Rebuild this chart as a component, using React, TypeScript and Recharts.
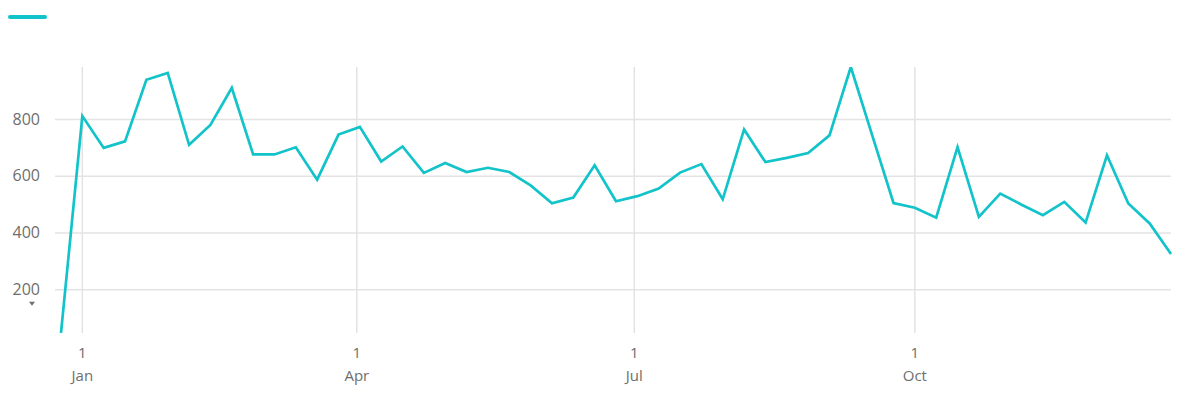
import { LineChart, Line, XAxis, YAxis, ReferenceLine } from "recharts";

const LINE_COLOR = "#12c3c9";
const GRID_COLOR = "#e3e3e3";
const TEXT_COLOR = "#6e6e6e";
const FONT = "'Open Sans', 'Noto Sans', sans-serif";

// weekly buckets (week start dates)
const WEEKS = [
  "2017-12-25",
  "2018-01-01", "2018-01-08", "2018-01-15", "2018-01-22", "2018-01-29",
  "2018-02-05", "2018-02-12", "2018-02-19", "2018-02-26",
  "2018-03-05", "2018-03-12", "2018-03-19", "2018-03-26",
  "2018-04-02", "2018-04-09", "2018-04-16", "2018-04-23", "2018-04-30",
  "2018-05-07", "2018-05-14", "2018-05-21", "2018-05-28",
  "2018-06-04", "2018-06-11", "2018-06-18", "2018-06-25",
  "2018-07-02", "2018-07-09", "2018-07-16", "2018-07-23", "2018-07-30",
  "2018-08-06", "2018-08-13", "2018-08-20", "2018-08-27",
  "2018-09-03", "2018-09-10", "2018-09-17", "2018-09-24",
  "2018-10-01", "2018-10-08", "2018-10-15", "2018-10-22", "2018-10-29",
  "2018-11-05", "2018-11-12", "2018-11-19", "2018-11-26",
  "2018-12-03", "2018-12-10", "2018-12-17", "2018-12-24",
];

const VALUES = [
  48,
  812, 700, 723, 940, 964,
  711, 781, 912, 677,
  677, 702, 588, 747,
  774, 652, 705, 612, 647,
  615, 630, 615, 568,
  505, 525, 639, 512,
  530, 557, 613, 643, 519,
  765, 650, 665, 682,
  744, 985, 745, 506,
  489, 454, 703, 457, 539,
  500, 463, 510, 437,
  674, 504, 434, 326,
];

const X_TICKS = ["2018-01-01", "2018-04-01", "2018-07-01", "2018-10-01"];
const MONTHS = ["Jan", "Feb", "Mar", "Apr", "May", "Jun", "Jul", "Aug", "Sep", "Oct", "Nov", "Dec"];
const Y_TICKS = [200, 400, 600, 800];

const data = WEEKS.map((w, i) => ({ t: Date.parse(w), value: VALUES[i] }));
const xTicks = X_TICKS.map((d) => Date.parse(d));
const yMin = Math.min(...VALUES);
const yMax = Math.max(...VALUES);

function MonthTick(props: any) {
  const { x, y, payload } = props;
  const d = new Date(payload.value);
  return (
    <g>
      <text x={x} y={y + 23} textAnchor="middle" fill={TEXT_COLOR} fontSize={15} fontFamily={FONT}>
        {d.getUTCDate()}
      </text>
      <text x={x} y={y + 46} textAnchor="middle" fill={TEXT_COLOR} fontSize={15} fontFamily={FONT}>
        {MONTHS[d.getUTCMonth()]}
      </text>
    </g>
  );
}

function ValueTick(props: any) {
  const { x, y, payload } = props;
  const lowest = payload.value === Y_TICKS[0];
  return (
    <g>
      <text x={x} y={y + 5} textAnchor="end" fill={TEXT_COLOR} fontSize={16} fontFamily={FONT}>
        {payload.value}
      </text>
      {/* little dropdown marker under the lowest tick */}
      {lowest && (
        <path d={`M${x - 11},${y + 12} L${x - 5},${y + 12} L${x - 8},${y + 16} Z`} fill={TEXT_COLOR} />
      )}
    </g>
  );
}

export default function App() {
  return (
    <div style={{ position: "absolute", left: 0, top: 0, width: 1188, height: 400, background: "#fff" }}>
      {/* series swatch (legend) */}
      <div
        style={{
          position: "absolute",
          left: 8,
          top: 15,
          width: 39,
          height: 4,
          borderRadius: 2,
          background: LINE_COLOR,
        }}
      />
      <LineChart width={1188} height={400} data={data} margin={{ top: 67, right: 17, bottom: 7, left: 0 }}>
        <XAxis
          dataKey="t"
          type="number"
          scale="linear"
          domain={["dataMin", "dataMax"]}
          ticks={xTicks}
          tick={<MonthTick />}
          axisLine={false}
          tickLine={false}
          tickSize={0}
          height={60}
          padding={{ left: 6, right: 0 }}
          interval={0}
        />
        <YAxis
          domain={[yMin, yMax]}
          allowDataOverflow
          ticks={Y_TICKS}
          tick={<ValueTick />}
          axisLine={false}
          tickLine={false}
          tickSize={0}
          tickMargin={15}
          width={55}
          interval={0}
        />
        {/* gridlines only at the tick values, no frame */}
        {Y_TICKS.map((v) => (
          <ReferenceLine key={`h${v}`} y={v} stroke={GRID_COLOR} strokeWidth={1.5} />
        ))}
        {xTicks.map((t) => (
          <ReferenceLine key={`v${t}`} x={t} stroke={GRID_COLOR} strokeWidth={1.5} />
        ))}
        <Line
          type="linear"
          dataKey="value"
          stroke={LINE_COLOR}
          strokeWidth={2.7}
          dot={false}
          isAnimationActive={false}
        />
      </LineChart>
    </div>
  );
}
